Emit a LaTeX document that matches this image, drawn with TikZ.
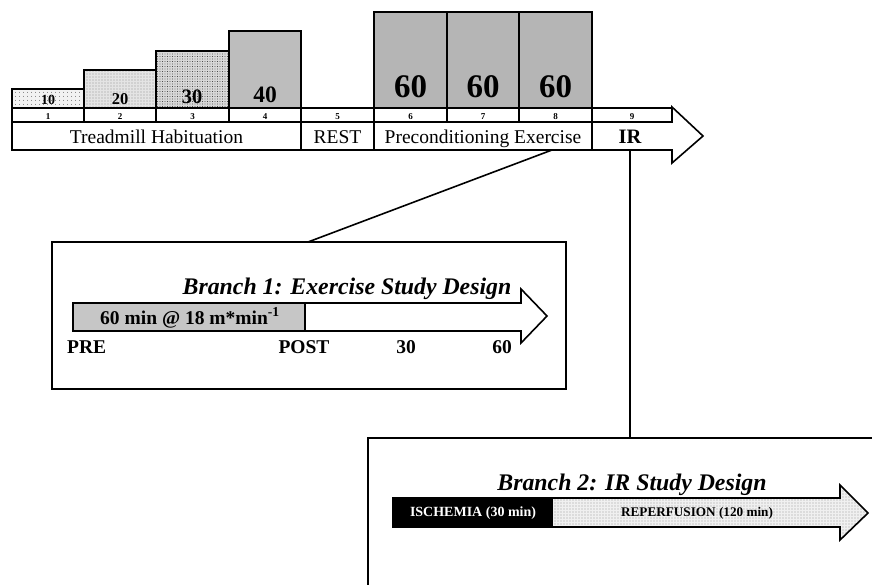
\documentclass[tikz,border=0pt]{standalone}
\usepackage{fontspec}
\setmainfont{Liberation Serif}
\usetikzlibrary{patterns,patterns.meta}
\definecolor{blkA}{HTML}{F2F2F2}
\definecolor{blkB}{HTML}{E4E4E4}
\definecolor{blkC}{HTML}{D8D8D8}
\definecolor{blkD}{HTML}{BDBDBD}
\definecolor{blkE}{HTML}{B5B5B5}
\definecolor{shaftgray}{HTML}{C6C6C6}
\definecolor{reperf}{HTML}{F0F0F0}
\newcommand{\fsz}[1]{\fontsize{#1}{#1}\selectfont}
\begin{document}
\begin{tikzpicture}[x=1pt,y=-1pt,
  ln/.style={line width=1.6pt, line join=miter},
  cell/.style={draw, line width=1.6pt},
  blocknum/.style={anchor=base, font=\bfseries\fsz{#1}, inner sep=0pt},
  daynum/.style={anchor=base, font=\bfseries\fsz{9}, inner sep=0pt},
  rowlab/.style={anchor=base, font=\fsz{19.5}, inner sep=0pt},
  tlab/.style={anchor=base, font=\bfseries\fsz{19.5}, inner sep=0pt},
  title/.style={anchor=base, font=\bfseries\itshape\fsz{23.8}, inner sep=0pt}]
\useasboundingbox (0,0) rectangle (872,584);
\clip (0,0) rectangle (872,584);

% ---------- top timeline ----------
\draw[ln, fill=white] (12,108) -- (672,108) -- (672,107) -- (703,136) -- (672,163) -- (672,150) -- (12,150) -- cycle;

% blocks
\draw[cell, fill=blkA, postaction={pattern={Dots[distance=4pt,radius=0.45pt]}}] (12,89) rectangle (84,108);
\draw[cell, fill=blkB, postaction={pattern={Dots[distance=3pt,radius=0.45pt]}}] (84,70) rectangle (156,108);
\draw[cell, fill=blkC, postaction={pattern={Dots[distance=2.5pt,radius=0.45pt]}}] (156,51) rectangle (229,108);
\draw[cell, fill=blkD] (229,31) rectangle (301,108);
\draw[cell, fill=blkE] (374,12) rectangle (447,108);
\draw[cell, fill=blkE] (447,12) rectangle (519,108);
\draw[cell, fill=blkE] (519,12) rectangle (592,108);

\node[blocknum=14] (n10) at (48,104) {10};
\node[blocknum=16.5] (n20) at (120,104) {20};
\node[blocknum=20.5] (n30) at (192,103) {30};
\node[blocknum=23.5] (n40) at (265,102) {40};
\node[blocknum=33] (n60a) at (410.5,97) {60};
\node[blocknum=33] (n60b) at (483,97) {60};
\node[blocknum=33] (n60c) at (555.5,97) {60};

% day number row
\draw[cell] (12,108) rectangle (84,122);
\draw[cell] (84,108) rectangle (156,122);
\draw[cell] (156,108) rectangle (229,122);
\draw[cell] (229,108) rectangle (301,122);
\draw[cell] (301,108) rectangle (374,122);
\draw[cell] (374,108) rectangle (447,122);
\draw[cell] (447,108) rectangle (519,122);
\draw[cell] (519,108) rectangle (592,122);
\draw[cell] (592,108) rectangle (672,122);
\node[daynum] (d1) at (48,119.5) {1};
\node[daynum] (d2) at (120,119.5) {2};
\node[daynum] (d3) at (192.5,119.5) {3};
\node[daynum] (d4) at (265,119.5) {4};
\node[daynum] (d5) at (337.5,119.5) {5};
\node[daynum] (d6) at (410.5,119.5) {6};
\node[daynum] (d7) at (483,119.5) {7};
\node[daynum] (d8) at (555.5,119.5) {8};
\node[daynum] (d9) at (632,119.5) {9};

% label row
\draw[cell] (12,122) rectangle (301,150);
\draw[cell] (301,122) rectangle (374,150);
\draw[cell] (374,122) rectangle (592,150);
\node[rowlab] (lhab) at (156.5,143) {Treadmill Habituation};
\node[rowlab] (lrest) at (337.5,143) {REST};
\node[rowlab] (lpre) at (483,143) {Preconditioning Exercise};
\node[rowlab, font=\bfseries\fsz{20.5}] (lir) at (630,143) {IR};

% ---------- connectors ----------
\coordinate (c1a) at (552,150);
\coordinate (c1b) at (308,242);
\coordinate (c2a) at (630,150);
\coordinate (c2b) at (630,438);
\draw[ln] (c1a) -- (c1b);
\draw[ln] (c2a) -- (c2b);

% ---------- Branch 1 ----------
\draw[cell] (52,242) rectangle (566,389);
\node[title] (t1) at (347,294) {Branch 1: Exercise Study Design};
\draw[ln, fill=white] (73,303) -- (521,303) -- (521,289) -- (547,316) -- (521,343) -- (521,331) -- (73,331) -- cycle;
\draw[cell, fill=shaftgray] (73,303) rectangle (305,331);
\node[anchor=base, font=\bfseries\fsz{19.5}, inner sep=0pt] (ex) at (190,324) {60 min @ 18 m*min\textsuperscript{-1}};
\node[tlab, anchor=base west] (pre) at (67,353) {PRE};
\node[tlab] (post) at (304,353) {POST};
\node[tlab] (m30) at (406,353) {30};
\node[tlab] (m60) at (502,353) {60};

% ---------- Branch 2 ----------
\draw[cell] (368,438) rectangle (900,620);
\node[title] (t2) at (632,490) {Branch 2: IR Study Design};
\draw[ln, fill=reperf, postaction={pattern={Dots[distance=3pt,radius=0.4pt]}}] (393,498) -- (840,498) -- (840,485) -- (868,513) -- (840,540) -- (840,527) -- (393,527) -- cycle;
\fill[black] (393,497.2) rectangle (553,527.8);
\node[font=\bfseries\fsz{14}, text=white, inner sep=0pt] (isc) at (473,513) {ISCHEMIA (30 min)};
\node[font=\bfseries\fsz{13.2}, inner sep=0pt] (rep) at (697,513) {REPERFUSION (120 min)};
\end{tikzpicture}
\end{document}
